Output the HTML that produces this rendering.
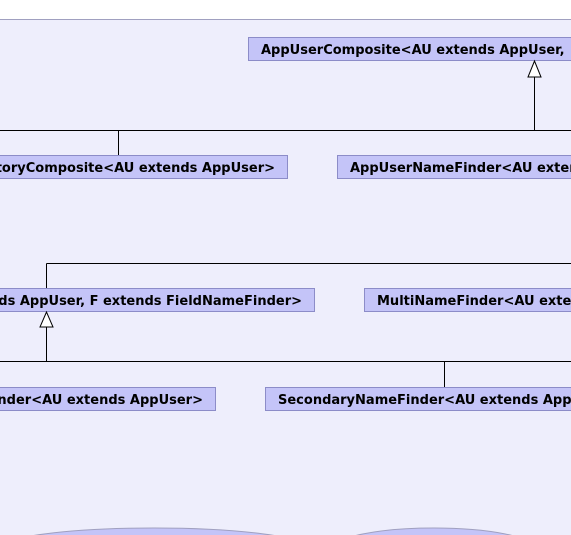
<!DOCTYPE html>
<html><head><meta charset="utf-8"><style>
html,body{margin:0;padding:0;background:#fff;width:571px;height:535px;overflow:hidden}
svg{display:block;overflow:hidden}
text{font-family:"DejaVu Sans","Liberation Sans",sans-serif;font-weight:bold;font-size:13px;fill:#000}
</style></head><body>
<svg width="571" height="535" viewBox="0 0 571 535">
<rect x="-2" y="19.5" width="580" height="520" fill="#eeeefc" stroke="#a0a0c0" stroke-width="1"/>
<g fill="#c4c4f8" stroke="#8c8cc8" stroke-width="1">
<rect x="248.5" y="37.5" width="360" height="23"/>
<rect x="-20" y="155.5" width="307.5" height="23"/>
<rect x="337.5" y="155.5" width="280" height="23"/>
<rect x="-20" y="288.5" width="334.5" height="23"/>
<rect x="364.5" y="288.5" width="260" height="23"/>
<rect x="-20" y="387.5" width="235.5" height="23"/>
<rect x="265.5" y="387.5" width="350" height="23"/>
</g>
<text x="261" y="54">AppUserComposite&lt;AU extends AppUser,</text>
<text x="275" y="172" text-anchor="end">toryComposite&lt;AU extends AppUser&gt;</text>
<text x="350" y="172">AppUserNameFinder&lt;AU extends AppUser&gt;</text>
<text x="302" y="305" text-anchor="end">ds AppUser, F extends FieldNameFinder&gt;</text>
<text x="377" y="305">MultiNameFinder&lt;AU extends AppUser&gt;</text>
<text x="203" y="404" text-anchor="end">nder&lt;AU extends AppUser&gt;</text>
<text x="278" y="404">SecondaryNameFinder&lt;AU extends AppUser&gt;</text>
<g stroke="#000" stroke-width="1" fill="none">
<path d="M0 130.5H571M118.5 130.5V155M534.5 130.5V77"/>
<path d="M46.5 263.5H571M46.5 263.5V288"/>
<path d="M0 361.5H571M46.5 361.5V327M444.5 361.5V387"/>
</g>
<g stroke="#000" stroke-width="1" fill="#fff">
<polygon points="534.5,61 528,77 541,77"/>
<polygon points="46.5,312 40,327 53,327"/>
</g>
<g fill="#c4c4f8" stroke="#a0a0c0" stroke-width="1">
<ellipse cx="154" cy="548" rx="154" ry="20"/>
<ellipse cx="434" cy="548" rx="100" ry="20"/>
</g>
</svg>
</body></html>
